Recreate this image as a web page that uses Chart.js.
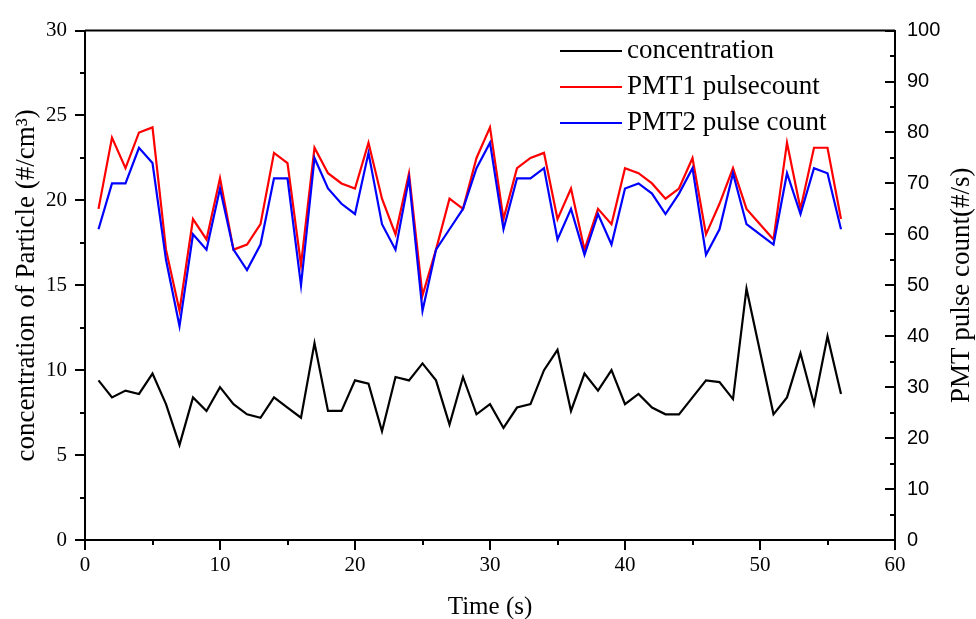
<!DOCTYPE html>
<html>
<head>
<meta charset="utf-8">
<script src="https://cdn.jsdelivr.net/npm/chart.js@4.4.0/dist/chart.umd.min.js"></script>
<style>
  body { margin: 0; background: #fff; }
  #wrap { width: 976px; height: 619px; }
</style>
</head>
<body>
<div id="wrap"><canvas id="pmt_chart"></canvas></div>
<script>
// values
var time = [1, 2, 3, 4, 5, 6, 7, 8, 9, 10, 11, 12, 13, 14, 15, 16, 17, 18, 19, 20,
            21, 22, 23, 24, 25, 26, 27, 28, 29, 30, 31, 32, 33, 34, 35, 36, 37, 38, 39, 40,
            41, 42, 43, 44, 45, 46, 47, 48, 49, 50, 51, 52, 53, 54, 55, 56];
var concentration = [9.4, 8.4, 8.8, 8.6, 9.8, 8.0, 5.6, 8.4, 7.6, 9.0, 8.0, 7.4, 7.2, 8.4, 7.8, 7.2, 11.6, 7.6, 7.6, 9.4,
                     9.2, 6.4, 9.6, 9.4, 10.4, 9.4, 6.8, 9.6, 7.4, 8.0, 6.6, 7.8, 8.0, 10.0, 11.2, 7.6, 9.8, 8.8, 10.0, 8.0,
                     8.6, 7.8, 7.4, 7.4, 8.4, 9.4, 9.3, 8.3, 14.8, 11.1, 7.4, 8.4, 11.0, 8.0, 12.0, 8.6];
var pmt1 = [65, 79, 73, 80, 81, 57, 45, 63, 59, 71, 57, 58, 62, 76, 74, 54, 77, 72, 70, 69,
            78, 67, 60, 72, 48, 57, 67, 65, 75, 81, 63, 73, 75, 76, 63, 69, 57, 65, 62, 73,
            72, 70, 67, 69, 75, 60, 66, 73, 65, 62, 59, 78, 65, 77, 77, 63];
var pmt2 = [61, 70, 70, 77, 74, 55, 42, 60, 57, 69, 57, 53, 58, 71, 71, 50, 75, 69, 66, 64,
            76, 62, 57, 71, 45, 57, 61, 65, 73, 78, 61, 71, 71, 73, 59, 65, 56, 64, 58, 69,
            70, 68, 64, 68, 73, 56, 61, 72, 62, 60, 58, 72, 64, 73, 72, 61];

function toPoints(ys) {
    return time.map(function (t, i) { return {x: t, y: ys[i]}; });
}

var serif = '"Liberation Serif", "Times New Roman", serif';

// minor/major tick marks, top frame line, legend and right title
var axisExtras = {
    id: 'axisExtras',
    afterDraw: function (chart) {
        var ctx = chart.ctx, area = chart.chartArea;
        var sx = chart.scales.x, yl = chart.scales.y, yr = chart.scales.y1;
        ctx.save();
        ctx.strokeStyle = '#000';
        ctx.lineWidth = 2;
        ctx.beginPath();
        ctx.moveTo(area.left, area.top);
        ctx.lineTo(area.right, area.top);
        var v, p, len;
        for (v = 0; v <= 30; v += 2.5) {
            p = Math.round(yl.getPixelForValue(v));
            len = v % 5 === 0 ? 10 : 5;
            ctx.moveTo(area.left - len, p);
            ctx.lineTo(area.left, p);
        }
        for (v = 0; v <= 100; v += 5) {
            p = Math.round(yr.getPixelForValue(v));
            len = v % 10 === 0 ? 10 : 5;
            ctx.moveTo(area.right - len, p);
            ctx.lineTo(area.right, p);
        }
        for (v = 0; v <= 60; v += 5) {
            p = Math.round(sx.getPixelForValue(v));
            len = v % 10 === 0 ? 10 : 5;
            ctx.moveTo(p, area.bottom);
            ctx.lineTo(p, area.bottom + len);
        }
        ctx.stroke();

        // legend inside the plot
        ctx.font = '27px ' + serif;
        ctx.textBaseline = 'middle';
        ctx.textAlign = 'left';
        chart.data.datasets.forEach(function (ds, i) {
            var y = 51 + i * 36;
            ctx.strokeStyle = ds.borderColor;
            ctx.beginPath();
            ctx.moveTo(560, y);
            ctx.lineTo(622, y);
            ctx.stroke();
            ctx.fillStyle = '#000';
            ctx.fillText(ds.label, 627, y);
        });

        // right axis title, reads bottom to top
        ctx.translate(962, (area.top + area.bottom) / 2);
        ctx.rotate(-Math.PI / 2);
        ctx.textAlign = 'center';
        ctx.fillText('PMT pulse count(#/s)', 0, 0);
        ctx.restore();
    }
};

var ctx = document.getElementById('pmt_chart').getContext('2d');
var chart = new Chart(ctx, {
    type: 'line',
    data: {
        datasets: [{
            label: 'concentration',
            data: toPoints(concentration),
            borderColor: '#000000',
            yAxisID: 'y',
            order: 2
        }, {
            label: 'PMT1 pulsecount',
            data: toPoints(pmt1),
            borderColor: '#ff0000',
            yAxisID: 'y1',
            order: 1
        }, {
            label: 'PMT2 pulse count',
            data: toPoints(pmt2),
            borderColor: '#0000ff',
            yAxisID: 'y1',
            order: 0
        }]
    },
    options: {
        responsive: true,
        maintainAspectRatio: false,
        animation: false,
        layout: { padding: { top: 27, left: 0, right: 0, bottom: 0 } },
        elements: {
            point: { radius: 0 },
            line: { borderWidth: 2.2, tension: 0 }
        },
        plugins: {
            legend: { display: false },
            tooltip: { enabled: false }
        },
        scales: {
            x: {
                type: 'linear',
                min: 0,
                max: 60,
                grid: { display: false, drawTicks: false },
                border: { display: true, color: '#000', width: 2 },
                ticks: { stepSize: 10, padding: 13, color: '#000', font: { family: serif, size: 21 } },
                title: { display: true, text: 'Time (s)', color: '#000', font: { family: serif, size: 25 }, padding: { top: 0, bottom: -3 } },
                afterFit: function (scale) { scale.height = 79; }
            },
            y: {
                position: 'left',
                min: 0,
                max: 30,
                grid: { display: false, drawTicks: false },
                border: { display: true, color: '#000', width: 2 },
                ticks: { stepSize: 5, padding: 18, color: '#000', font: { family: serif, size: 21 } },
                title: { display: true, text: 'concentration of Particle (#/cm³)', color: '#000', font: { family: serif, size: 27 }, padding: { top: 11, bottom: 0 } },
                afterFit: function (scale) { scale.width = 85; }
            },
            y1: {
                position: 'right',
                min: 0,
                max: 100,
                grid: { display: false, drawTicks: false },
                border: { display: true, color: '#000', width: 2 },
                ticks: { stepSize: 10, padding: 12, color: '#000', font: { family: '"Liberation Sans", Arial, sans-serif', size: 20 } },
                afterFit: function (scale) { scale.width = 81; }
            }
        }
    },
    plugins: [axisExtras]
});
</script>
</body>
</html>
